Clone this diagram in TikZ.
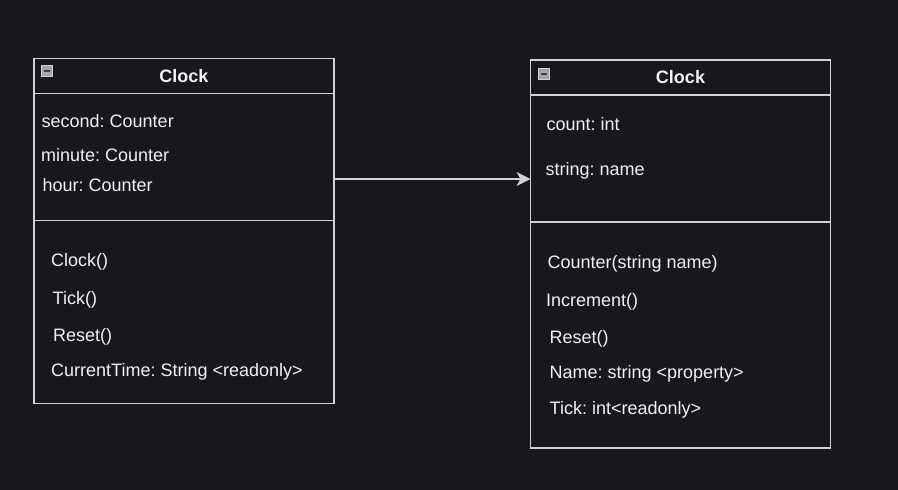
\documentclass[tikz,border=0pt]{standalone}
\usepackage{fontspec}
\setmainfont{Liberation Sans}
\usepackage{xcolor}
\usepackage{tikz}
\usetikzlibrary{arrows.meta,positioning}

\definecolor{bgdark}{HTML}{18171E}
\definecolor{edgegray}{HTML}{D2D2D2}
\definecolor{txtwhite}{HTML}{F2F2F2}
\frenchspacing

\begin{document}
\begin{tikzpicture}[x=1pt, y=-1pt,
  part/.style={rectangle, draw=edgegray, line width=1.2pt, inner sep=0pt,
               outer sep=0pt, minimum width=300pt, text=txtwhite,
               font=\fontsize{18}{22}\selectfont\bfseries},
  member/.style={anchor=base west, inner sep=0pt, text=txtwhite,
                 font=\fontsize{18}{22}\selectfont},
  icon/.style={rectangle, draw=gray!35, fill=gray!70, line width=0.8pt,
               minimum size=11pt, inner sep=0pt, anchor=north west,
               path picture={\draw[line width=2pt, black!75]
                 ([xshift=2.5pt]path picture bounding box.west) --
                 ([xshift=-2.5pt]path picture bounding box.east);}},
  arr/.style={-{Stealth[length=14pt, width=14pt, inset=4pt]},
              draw=edgegray, line width=1.2pt}
]
\fill[bgdark] (0,0) rectangle (898,490);

% left class
\node[part, anchor=north west, minimum height=35pt] (lHead) at (34,58.5) {Clock};
\node[part, minimum height=127pt, below=0pt of lHead] (lAttr) {};
\node[part, minimum height=183pt, below=0pt of lAttr] (lOps) {};
\node[icon] (lIcon) at (41,65) {};

\node[member] (lSecond) at (41.5,127.5) {second: Counter};
\node[member] (lMinute) at (41,161) {minute: Counter};
\node[member] (lHour)   at (42.5,191) {hour: Counter};

\node[member] (lCtor)  at (51,266) {Clock()};
\node[member] (lTick)  at (52.5,304) {Tick()};
\node[member] (lReset) at (53,341.5) {Reset()};
\node[member] (lTime)  at (51,376.5) {CurrentTime: String <readonly>};

% right class
\node[part, anchor=north west, minimum height=35pt] (rHead) at (530.5,60) {Clock};
\node[part, minimum height=127pt, below=0pt of rHead] (rAttr) {};
\node[part, minimum height=226pt, below=0pt of rAttr] (rOps) {};
\node[icon] (rIcon) at (538,68) {};

\node[member] (rCount) at (546.5,130) {count: int};
\node[member] (rName)  at (545.5,175) {string: name};

\node[member] (rCtor)  at (547.5,268.5) {Counter(string name)};
\node[member] (rInc)   at (546,306.5) {Increment()};
\node[member] (rReset) at (549.5,343.5) {Reset()};
\node[member] (rProp)  at (549.5,378.5) {Name: string <property>};
\node[member] (rTick)  at (549.5,414.5) {Tick: int<readonly>};

% association
\coordinate (link) at (400,179);
\draw[arr] (lAttr.east |- link) -- (rAttr.west |- link);
\end{tikzpicture}
\end{document}
